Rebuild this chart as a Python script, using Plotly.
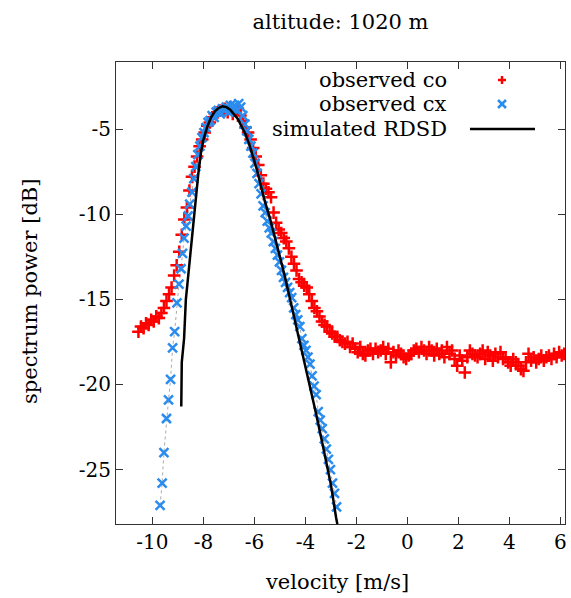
import plotly.graph_objects as go

# observed co (red +)
co_v = [-10.55, -10.45, -10.35, -10.25, -10.15, -10.05, -9.95, -9.85, -9.75, -9.65,
        -9.55, -9.45, -9.35, -9.25, -9.15, -9.05, -8.95, -8.85, -8.75, -8.65,
        -8.55, -8.45, -8.35, -8.25, -8.15, -8.05, -7.95, -7.85, -7.75, -7.65,
        -7.55, -7.45, -7.35, -7.25, -7.15, -7.05, -6.95, -6.85, -6.75, -6.65,
        -6.55, -6.45, -6.35, -6.25, -6.15, -6.05, -5.95, -5.85, -5.75, -5.65,
        -5.55, -5.45, -5.35, -5.25, -5.15, -5.05, -4.95, -4.85, -4.75, -4.65,
        -4.55, -4.45, -4.35, -4.25, -4.15, -4.05, -3.95, -3.85, -3.75, -3.65,
        -3.55, -3.45, -3.35, -3.25, -3.15, -3.05, -2.95, -2.85, -2.75, -2.65,
        -2.55, -2.45, -2.35, -2.25, -2.15, -2.05, -1.95, -1.85, -1.75, -1.65,
        -1.55, -1.45, -1.35, -1.25, -1.15, -1.05, -0.95, -0.85, -0.75, -0.65,
        -0.55, -0.45, -0.35, -0.25, -0.15, -0.05, 0.05, 0.15, 0.25, 0.35,
        0.45, 0.55, 0.65, 0.75, 0.85, 0.95, 1.05, 1.15, 1.25, 1.35,
        1.45, 1.55, 1.65, 1.75, 1.85, 1.95, 2.05, 2.15, 2.25, 2.35,
        2.45, 2.55, 2.65, 2.75, 2.85, 2.95, 3.05, 3.15, 3.25, 3.35,
        3.45, 3.55, 3.65, 3.75, 3.85, 3.95, 4.05, 4.15, 4.25, 4.35,
        4.45, 4.55, 4.65, 4.75, 4.85, 4.95, 5.05, 5.15, 5.25, 5.35,
        5.45, 5.55, 5.65, 5.75, 5.85, 5.95, 6.05, 6.15]
co_db = [-16.9, -16.6, -16.7, -16.4, -16.5, -16.2, -16.3, -16.0, -16.1, -15.8,
         -15.5, -15.1, -14.7, -14.3, -13.6, -13.0, -12.2, -11.2, -10.3, -9.6,
         -8.6, -7.8, -7.2, -6.6, -6.0, -5.6, -5.2, -4.8, -4.6, -4.3,
         -4.1, -4.0, -3.9, -3.9, -3.8, -4.0, -3.7, -4.1, -3.9, -3.8,
         -4.2, -4.5, -4.9, -5.2, -5.6, -6.1, -6.6, -7.1, -7.7, -8.2,
         -8.5, -8.7, -9.0, -9.9, -10.5, -10.9, -11.1, -11.4, -11.6, -12.0,
         -12.5, -12.9, -13.3, -13.8, -14.0, -14.2, -14.3, -14.7, -15.1, -15.5,
         -15.7, -16.0, -16.3, -16.5, -16.6, -16.9, -17.0, -17.2, -17.2, -17.4,
         -17.5, -17.6, -17.5, -17.8, -17.6, -17.9, -18.1, -17.8, -18.2, -18.3,
         -18.0, -17.9, -18.2, -17.9, -18.1, -18.0, -17.8, -18.2, -17.9, -18.7,
         -18.1, -18.3, -18.0, -18.2, -18.4, -18.5, -18.3, -18.2, -18.0, -17.9,
         -18.1, -17.8, -18.0, -18.2, -17.8, -18.0, -18.3, -17.9, -18.2, -18.0,
         -18.4, -17.8, -18.2, -18.0, -18.5, -18.9, -18.3, -18.6, -19.3, -18.4,
         -18.0, -18.2, -18.3, -18.4, -18.2, -18.0, -18.5, -18.1, -18.3, -18.6,
         -18.2, -18.4, -18.1, -18.5, -18.4, -18.7, -18.9, -18.5, -18.7, -18.9,
         -19.1, -19.2, -18.7, -18.2, -18.6, -18.4, -18.7, -18.5, -18.3, -18.6,
         -18.4, -18.3, -18.5, -18.2, -18.4, -18.1, -18.3, -18.2]

# observed cx (blue x)
cx_v = [-9.70, -9.62, -9.55, -9.45, -9.37, -9.29, -9.21, -9.13, -9.04, -8.96,
        -8.88, -8.82, -8.76, -8.68, -8.60, -8.54, -8.45, -8.38, -8.30, -8.22,
        -8.14, -8.06, -7.98, -7.90, -7.82, -7.74, -7.66, -7.58, -7.50, -7.42,
        -7.34, -7.26, -7.18, -7.10, -7.02, -6.94, -6.86, -6.78, -6.70, -6.62,
        -6.54, -6.46, -6.38, -6.30, -6.22, -6.14, -6.06, -5.98, -5.90, -5.82,
        -5.74, -5.66, -5.58, -5.50, -5.42, -5.34, -5.26, -5.18, -5.10, -5.02,
        -4.94, -4.86, -4.78, -4.70, -4.62, -4.54, -4.46, -4.38, -4.30, -4.22,
        -4.14, -4.06, -3.98, -3.90, -3.82, -3.74, -3.66, -3.58, -3.50, -3.42,
        -3.34, -3.26, -3.18, -3.10, -3.02, -2.94, -2.86, -2.78]
cx_db = [-27.1, -25.8, -24.0, -22.0, -20.9, -19.7, -17.85, -16.9, -15.2, -14.1,
         -13.2, -12.3, -11.4, -10.7, -10.1, -9.4, -8.7, -7.9, -7.2, -6.5,
         -6.0, -5.5, -5.2, -4.9, -4.6, -4.5, -4.2, -4.3, -4.0, -3.9,
         -4.1, -3.8, -3.9, -3.7, -4.0, -3.6, -3.8, -3.6, -3.9, -3.5,
         -3.7, -4.2, -4.7, -5.1, -5.6, -6.0, -6.4, -7.0, -7.6, -8.2,
         -8.8, -9.5, -9.9, -10.4, -10.8, -11.1, -11.6, -12.0, -12.4, -12.8,
         -13.3, -13.7, -14.0, -14.3, -14.6, -14.9, -15.5, -15.9, -16.2, -16.6,
         -17.3, -17.7, -18.0, -18.4, -18.8, -19.5, -20.1, -20.6, -21.6, -22.1,
         -22.6, -23.2, -23.8, -24.4, -25.0, -25.8, -26.4, -27.2]

# simulated RDSD (black line)
sim_v = [-8.87, -8.85, -8.76, -8.69, -8.63, -8.56, -8.49, -8.43, -8.37, -8.30,
         -8.20, -8.10, -8.00, -7.85, -7.70, -7.55, -7.40, -7.25, -7.10, -6.95,
         -6.80, -6.65, -6.50, -6.35, -6.20, -6.05, -5.90, -5.75, -5.60, -5.40,
         -5.20, -5.00, -4.80, -4.60, -4.40, -4.20, -4.00, -3.80, -3.60, -3.40,
         -3.20, -3.00, -2.80, -2.70]
sim_db = [-21.3, -18.7, -17.3, -15.0, -14.1, -13.0, -11.8, -10.8, -9.8, -8.8,
          -7.6, -6.4, -5.6, -4.85, -4.3, -3.95, -3.75, -3.65, -3.7, -3.85,
          -4.1, -4.4, -4.85, -5.3, -5.9, -6.6, -7.4, -8.3, -9.2, -10.2,
          -11.3, -12.5, -13.7, -15.0, -16.3, -17.6, -19.0, -20.3, -21.6, -23.0,
          -24.4, -25.9, -27.8, -28.6]

x_ticks = [-10, -8, -6, -4, -2, 0, 2, 4, 6]
x_labels = ["-10", "-8", "-6", "-4", "-2", "0", "2", "4", "6"]
y_ticks = [-5, -10, -15, -20, -25]
y_labels = ["-5", "-10", "-15", "-20", "-25"]

RED = "#ff0000"
BLUE = "#2a8cee"
FONT = "DejaVu Serif"
TXT = 21

fig = go.Figure()
fig.add_trace(go.Scatter(x=cx_v, y=cx_db, mode="lines",
                         line=dict(color="#aaaaaa", width=1, dash="dot"),
                         showlegend=False, hoverinfo="skip"))
fig.add_trace(go.Scatter(x=co_v, y=co_db, mode="markers", name="observed co",
                         marker=dict(symbol="cross-thin", size=9, color=RED,
                                     line=dict(color=RED, width=2.5))))
fig.add_trace(go.Scatter(x=cx_v, y=cx_db, mode="markers", name="observed cx",
                         marker=dict(symbol="x-thin", size=9, color=BLUE,
                                     line=dict(color=BLUE, width=2.5))))
fig.add_trace(go.Scatter(x=sim_v, y=sim_db, mode="lines", name="simulated RDSD",
                         line=dict(color="black", width=2.5)))

# plot area in pixels
L, W, B, H = 116, 449, 74, 462
def px(x):
    return (x - L) / W
def py(y):
    return (598 - B - y) / H

# legend drawn by hand: text right aligned, sample on the right (gnuplot style)
rows = [("observed co", 80), ("observed cx", 104), ("simulated RDSD", 129)]
for txt, yy in rows:
    fig.add_annotation(text=txt, xref="paper", yref="paper", x=px(449), y=py(yy),
                       xanchor="right", yanchor="middle", showarrow=False,
                       font=dict(family=FONT, size=TXT, color="black"))

sx, s = 502, 4
shapes = [
    dict(x0=px(sx - s), x1=px(sx + s), y0=py(80), y1=py(80), color=RED),
    dict(x0=px(sx), x1=px(sx), y0=py(80 - s), y1=py(80 + s), color=RED),
    dict(x0=px(sx - s), x1=px(sx + s), y0=py(104 - s), y1=py(104 + s), color=BLUE),
    dict(x0=px(sx - s), x1=px(sx + s), y0=py(104 + s), y1=py(104 - s), color=BLUE),
]
for sh in shapes:
    fig.add_shape(type="line", xref="paper", yref="paper",
                  x0=sh["x0"], x1=sh["x1"], y0=sh["y0"], y1=sh["y1"],
                  line=dict(color=sh["color"], width=2.5))
fig.add_shape(type="line", xref="paper", yref="paper",
              x0=px(470), x1=px(535), y0=py(129), y1=py(129),
              line=dict(color="black", width=2.5))

# axis titles
fig.add_annotation(text="velocity [m/s]", xref="paper", yref="paper",
                   x=px(337), y=py(582), xanchor="center", yanchor="middle",
                   showarrow=False, font=dict(family=FONT, size=TXT, color="black"))
fig.add_annotation(text="spectrum power [dB]", xref="paper", yref="paper",
                   x=px(30), y=py(292), xanchor="center", yanchor="middle", textangle=-90,
                   showarrow=False, font=dict(family=FONT, size=TXT, color="black"))

axis_common = dict(showgrid=False, zeroline=False, showline=True, mirror="allticks",
                   automargin=False,
                   linecolor="#333333", linewidth=1, ticks="inside", ticklen=7,
                   tickcolor="#333333", tickfont=dict(family=FONT, size=20, color="black"))

fig.update_layout(
    width=571, height=598,
    margin=dict(l=L, r=571 - L - W, t=598 - B - H, b=B),
    paper_bgcolor="white", plot_bgcolor="white",
    showlegend=False,
    title=dict(text="altitude: 1020 m", x=(L + W / 2) / 571, xanchor="center",
               y=1 - 22 / 598, yanchor="middle", automargin=False,
               font=dict(family=FONT, size=TXT, color="black")),
    xaxis=dict(range=[-11.43, 6.18], tickvals=x_ticks, ticktext=x_labels, **axis_common),
    yaxis=dict(range=[-28.2, -1.05], tickvals=y_ticks, ticktext=y_labels, **axis_common),
)

# the page body has a default 8px margin; drop it so the figure fills the window
fig.write_html("out.html", config={"displayModeBar": False},
               post_script="document.body.style.margin='0';")
